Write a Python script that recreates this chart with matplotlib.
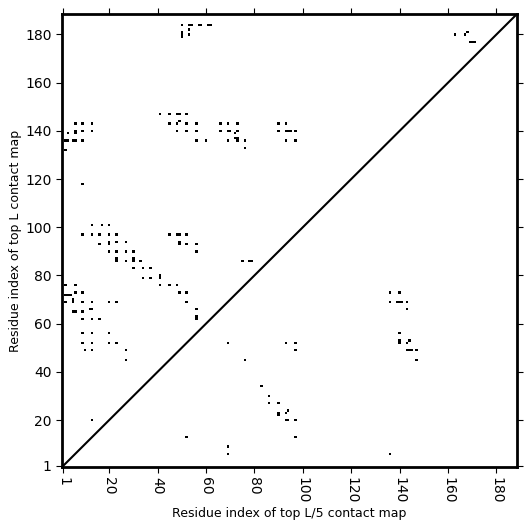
import numpy as np
import matplotlib
matplotlib.use('Agg')
import matplotlib.pyplot as plt

L = 188

# contacts above the diagonal: (i, j) with j > i  -> top L contact map
top_L_x = [6, 9, 13, 3, 6, 6, 9, 13, 2, 3, 5, 6, 9, 2, 9, 41,
           13, 17, 20, 9, 13, 16, 20, 23, 45, 48, 49, 52,
           16, 20, 20, 23, 27, 49, 49, 52, 56,
           20, 23, 27, 30, 56,
           23, 27, 30, 33, 30, 23,
           30, 34, 37, 34, 37, 41, 41,
           2, 6, 41, 45, 48,
           2, 3, 4, 6, 9, 49, 52,
           2, 5, 5, 9, 13, 20, 23, 52,
           5, 6, 9, 12, 13, 56,
           9, 13, 16, 56, 56,
           9, 13, 20, 9, 13, 20, 23, 10, 13, 27, 27, 13,
           75, 78, 79,
           50, 53, 54, 57, 58, 61, 62, 53, 50, 50, 50, 53,
           45, 48, 49, 52, 45, 48, 49, 52, 56, 66, 69, 73,
           48, 52, 56, 66, 69, 70, 73, 72,
           56, 60, 69, 73, 76, 76, 72, 73,
           90, 93, 90, 93, 94, 95, 97, 93, 97,
           163, 167, 168, 169, 170, 171]
top_L_y = [143, 143, 143, 139, 139, 140, 140, 140, 136, 136, 136, 136, 136, 132, 118, 147,
           101, 101, 101, 97, 97, 97, 97, 97, 97, 97, 97, 97,
           93, 93, 94, 94, 94, 94, 93, 93, 93,
           90, 90, 90, 90, 90,
           86, 86, 86, 86, 87, 87,
           83, 83, 83, 79, 79, 80, 79,
           76, 76, 76, 76, 76,
           72, 72, 72, 73, 73, 73, 73,
           69, 69, 70, 69, 69, 69, 69, 69,
           65, 65, 65, 66, 66, 66,
           62, 62, 62, 62, 63,
           56, 56, 56, 52, 52, 52, 52, 49, 49, 49, 45, 20,
           86, 86, 86,
           184, 184, 184, 184, 184, 184, 184, 182, 180, 179, 181, 180,
           147, 147, 147, 147, 143, 143, 144, 143, 143, 143, 143, 143,
           140, 140, 140, 140, 140, 140, 140, 139,
           136, 136, 136, 136, 136, 133, 137, 137,
           143, 143, 140, 140, 140, 140, 140, 136, 136,
           180, 180, 181, 177, 177, 177]

# contacts below the diagonal: (i, j) with j < i  -> top L/5 contact map
top_L5_x = [69, 93, 97, 97, 76, 83, 86, 86, 90, 90, 90, 93, 94, 93, 94, 97,
            52, 97, 69, 69,
            136, 140, 136, 139, 140, 141, 143, 143, 140, 140, 140, 143, 144,
            143, 144, 145, 147, 147, 136]
top_L5_y = [52, 52, 52, 49, 45, 34, 30, 27, 27, 23, 22, 23, 24, 20, 20, 20,
            13, 13, 9, 6,
            73, 73, 69, 69, 69, 69, 69, 66, 56, 53, 52, 52, 53,
            49, 49, 49, 49, 45, 6]

contact = np.zeros((L, L))
for x, y in zip(top_L_x, top_L_y):
    contact[y - 1, x - 1] = 1
for x, y in zip(top_L5_x, top_L5_y):
    contact[y - 1, x - 1] = 1

fig = plt.figure(figsize=(5.31, 5.31), dpi=100)
ax = fig.add_axes([0.1168, 0.1205, 0.8568, 0.8531])

ax.imshow(contact, cmap='Greys', origin='lower', interpolation='nearest',
          extent=(0.5, L + 0.5, 0.5, L + 0.5), aspect='auto', vmin=0, vmax=1)
ax.plot([0.5, L + 0.5], [0.5, L + 0.5], color='black', linewidth=1.5)

ticks = [1] + list(range(20, 181, 20))
ax.set_xticks(ticks)
ax.set_yticks(ticks)
ax.set_xticklabels([str(t) for t in ticks], rotation=270)
ax.set_xlim(0.5, L + 0.5)
ax.set_ylim(0.5, L + 0.5)
ax.tick_params(direction='out', top=True, right=True, labelsize=10, length=4)
for s in ax.spines.values():
    s.set_linewidth(2)

ax.set_xlabel('Residue index of top L/5 contact map', fontsize=9, labelpad=2)
ax.set_ylabel('Residue index of top L contact map', fontsize=9, labelpad=2)

plt.savefig('out.png', dpi=100)
